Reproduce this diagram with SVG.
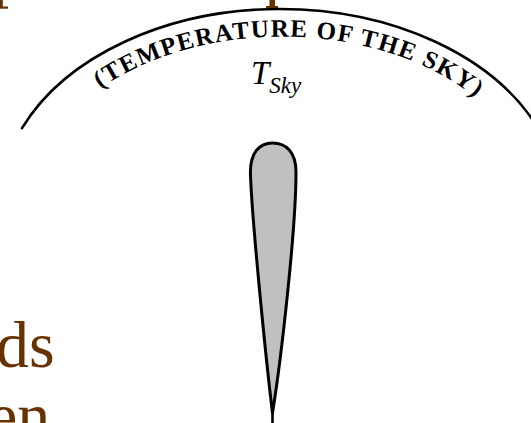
<svg xmlns="http://www.w3.org/2000/svg" width="531" height="423" viewBox="0 0 531 423">
  <style>
    .brown { fill: #663300; }
    .bodytext { font-family: "Liberation Serif", "Times New Roman", serif; font-size: 66px; fill: #663300; }
    .arctext { font-family: "Liberation Serif", "Times New Roman", serif; font-size: 25px; font-weight: bold; fill: #000; letter-spacing: 1.4px; }
    .ital { font-family: "Liberation Serif", "Times New Roman", serif; font-style: italic; fill: #000; }
    .line { fill: none; stroke: #000; stroke-width: 2.6; stroke-linecap: round; }
  </style>
  <defs>
    <path id="textArc" d="M 30,206 A 250,168 0 0 1 534,206"/>
  </defs>
  <rect x="0" y="0" width="531" height="423" fill="#fff"/>

  <g id="background-text">
    <rect class="brown" x="0" y="0" width="2.8" height="8"/>
    <rect class="brown" x="0" y="6.5" width="8" height="2.2"/>
    <rect class="brown" x="269.5" y="0" width="5.5" height="7"/>
    <rect class="brown" x="266" y="6" width="12" height="2.3"/>
    <text class="bodytext" x="-4" y="367">ds</text>
    <text class="bodytext" x="-12" y="438">en</text>
  </g>

  <g id="sky">
    <path class="line" d="M 22,128.2 A 280,195 0 0 1 538,128.2"/>
    <text class="arctext" text-anchor="middle"><textPath href="#textArc" startOffset="342">(TEMPERATURE OF THE SKY)</textPath></text>
    <text class="ital" x="251" y="84" font-size="33">T<tspan font-size="23" dy="9">Sky</tspan></text>
  </g>

  <g id="lobe">
    <path d="M 272.5,413 C 266,360 252,220 250.5,175 C 249.5,152 260,143 272.5,143 C 286,143 296,152 296,172 C 296,230 281,360 272.5,413 Z" fill="#c0c0c0" stroke="#000" stroke-width="3" stroke-linejoin="round"/>
  </g>

  <g id="connectors">
    <line class="line" x1="272.5" y1="410" x2="272.5" y2="425" stroke-width="3"/>
  </g>
</svg>
